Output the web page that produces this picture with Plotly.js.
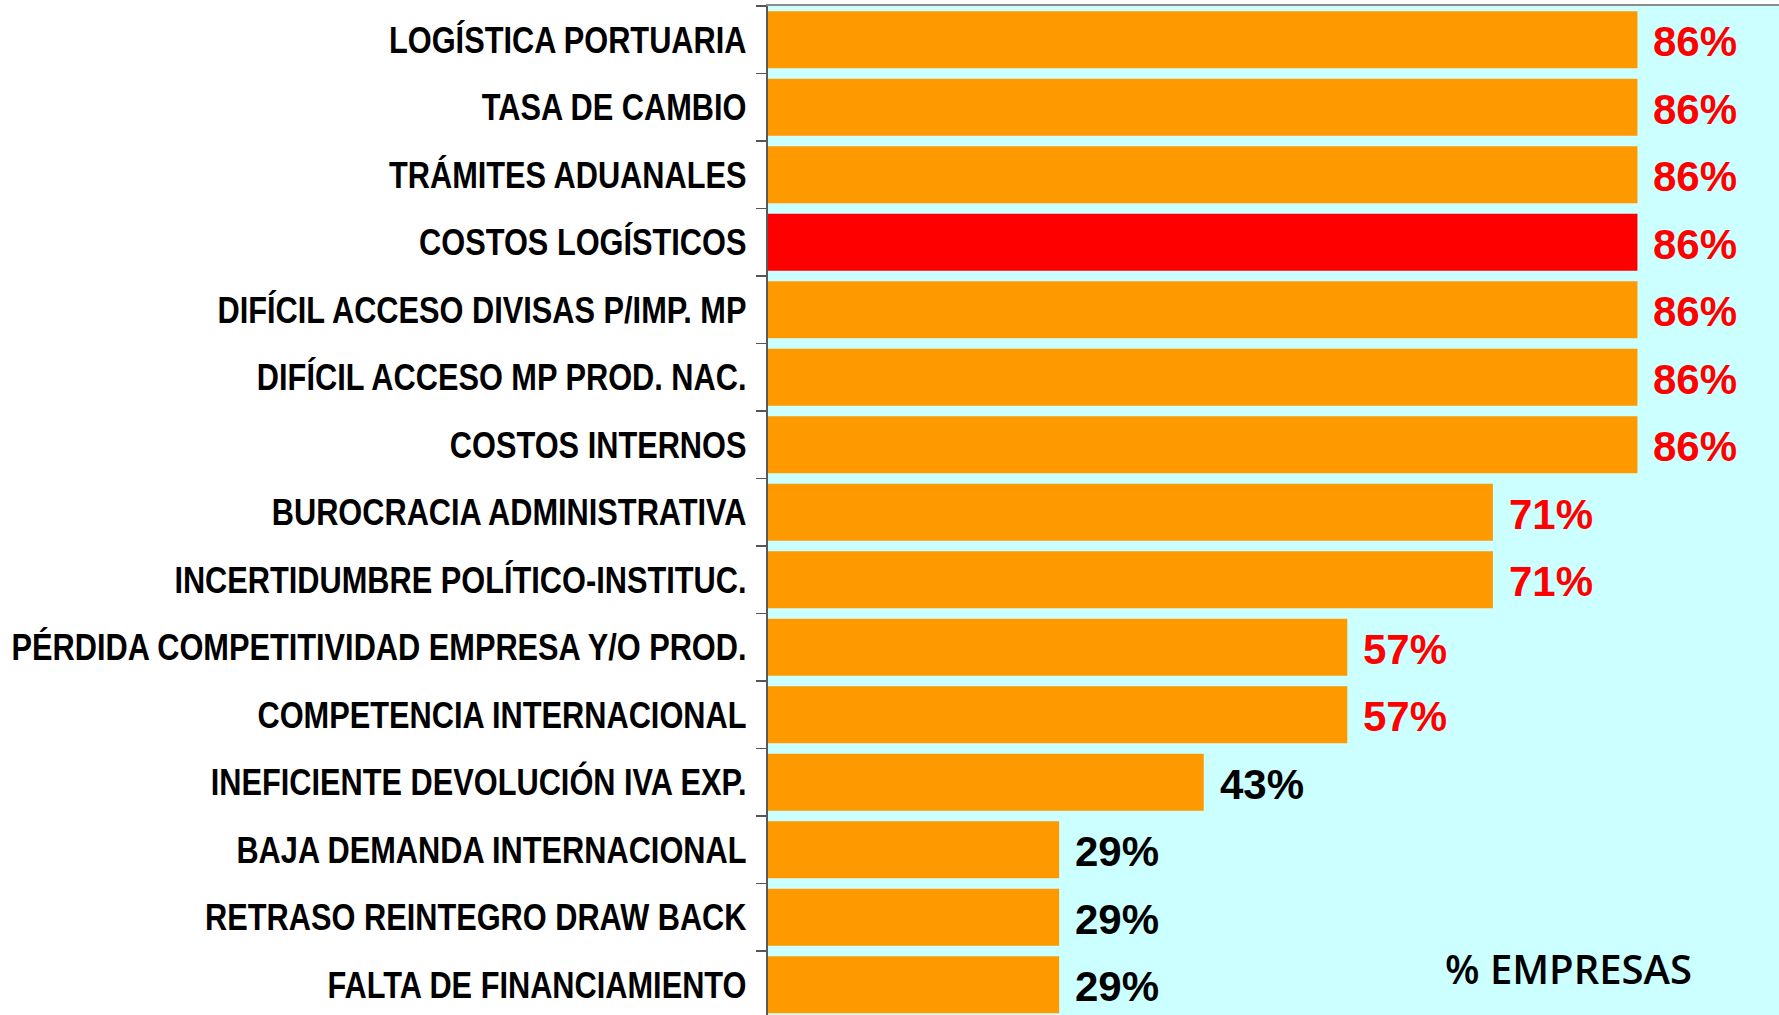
<!DOCTYPE html>
<html>
<head>
<meta charset="utf-8">
<script src="https://cdn.plot.ly/plotly-3.0.1.min.js"></script>
<style>
  html, body { margin: 0; padding: 0; background: #ffffff; }
  #chart { width: 1779px; height: 1015px; }
</style>
</head>
<body>
<div id="chart"></div>
<script>
// ---- Data (top to bottom) ----
const categories = [
  "LOGÍSTICA PORTUARIA",
  "TASA DE CAMBIO",
  "TRÁMITES ADUANALES",
  "COSTOS LOGÍSTICOS",
  "DIFÍCIL ACCESO DIVISAS P/IMP. MP",
  "DIFÍCIL ACCESO MP PROD. NAC.",
  "COSTOS INTERNOS",
  "BUROCRACIA ADMINISTRATIVA",
  "INCERTIDUMBRE POLÍTICO-INSTITUC.",
  "PÉRDIDA COMPETITIVIDAD EMPRESA Y/O PROD.",
  "COMPETENCIA INTERNACIONAL",
  "INEFICIENTE DEVOLUCIÓN IVA EXP.",
  "BAJA DEMANDA INTERNACIONAL",
  "RETRASO REINTEGRO DRAW BACK",
  "FALTA DE FINANCIAMIENTO"
];
const values = [86, 86, 86, 86, 86, 86, 86, 71.7, 71.7, 57.3, 57.3, 43.1, 28.8, 28.8, 28.8];
const valueLabels = ["86%", "86%", "86%", "86%", "86%", "86%", "86%", "71%", "71%", "57%", "57%", "43%", "29%", "29%", "29%"];
const highlighted = "COSTOS LOGÍSTICOS";
const axisTitle = "% EMPRESAS";

// ---- Styling ----
const ORANGE = "#FF9900";
const RED = "#FF0000";
const BG = "#CCFFFF";
const labelFont = "'Liberation Sans', Arial, sans-serif";
const NARROW = 0.82; // Arial Narrow is ~82% the width of Arial

const barColors = categories.map(c => c === highlighted ? RED : ORANGE);

const trace = {
  type: "bar",
  orientation: "h",
  x: values,
  y: categories,
  marker: { color: barColors, line: { width: 0 } },
  hoverinfo: "skip"
};

const annotations = categories.map((c, i) => ({
  x: values[i],
  y: c,
  xref: "x",
  yref: "y",
  text: valueLabels[i],
  showarrow: false,
  xanchor: "left",
  yanchor: "middle",
  xshift: 14,
  yshift: -2,
  font: { family: labelFont, size: 42, weight: 700, color: parseInt(valueLabels[i]) >= 50 ? RED : "#000000" }
}));

annotations.push({
  x: 0.7915,
  y: 0.046,
  xref: "paper",
  yref: "paper",
  text: axisTitle,
  showarrow: false,
  xanchor: "center",
  yanchor: "middle",
  font: { family: "'Open Sans', sans-serif", size: 40, weight: 600, color: "#000000" }
});

const plotHeight = 1015 - 6;
const pitch = 67.5;
const bottomRange = -0.5 + plotHeight / pitch;

const layout = {
  width: 1779,
  height: 1015,
  margin: { l: 768, r: 0, t: 6, b: 0, pad: 0 },
  paper_bgcolor: "#ffffff",
  plot_bgcolor: BG,
  showlegend: false,
  bargap: 0.155,
  xaxis: {
    range: [0, 100],
    side: "top",
    showgrid: false,
    zeroline: false,
    showticklabels: false,
    ticks: "",
    showline: true,
    linecolor: "#8c8c8c",
    linewidth: 2,
    fixedrange: true
  },
  yaxis: {
    type: "category",
    categoryorder: "array",
    categoryarray: categories,
    range: [bottomRange, -0.5],
    showgrid: false,
    zeroline: false,
    showline: true,
    linecolor: "#5a5a5a",
    linewidth: 2,
    ticks: "outside",
    tickson: "boundaries",
    ticklen: 10,
    tickwidth: 1.5,
    tickcolor: "#555555",
    ticklabelstandoff: 12,
    tickfont: { family: labelFont, size: 37.5, weight: 700, color: "#000000" },
    fixedrange: true
  },
  annotations: annotations
};

function condenseTickLabels(gd) {
  gd.querySelectorAll(".ytick text").forEach(t => {
    if (t.dataset.condensed) return;
    const x = parseFloat(t.getAttribute("x")) || 0;
    const prev = t.getAttribute("transform") || "";
    t.setAttribute("transform", prev + " translate(" + x + ",0) scale(" + NARROW + ",1) translate(" + (-x) + ",0)");
    t.dataset.condensed = "1";
  });
}

Plotly.newPlot("chart", [trace], layout, { displayModeBar: false, staticPlot: true }).then(gd => {
  condenseTickLabels(gd);
});
</script>
</body>
</html>
